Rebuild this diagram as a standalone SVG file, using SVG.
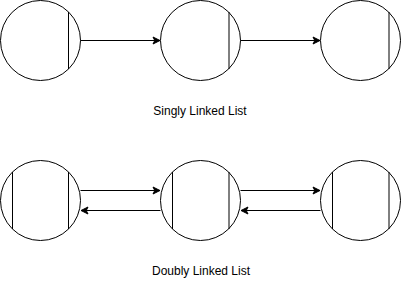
<svg xmlns="http://www.w3.org/2000/svg" width="401" height="281" viewBox="0 0 401 281">
<style>
.n circle{fill:#fff;stroke:#000;stroke-width:1}
.n line{stroke:#000;stroke-width:1}
.e{stroke:#000;stroke-width:1;fill:none;marker-end:url(#arr)}
.t{font-family:"Liberation Sans",Arial,sans-serif;font-size:12px;fill:#000;text-anchor:middle}
</style>
<defs>
<marker id="arr" markerUnits="userSpaceOnUse" markerWidth="10" markerHeight="10" viewBox="-8 -5 10 10" refX="0" refY="0" orient="auto">
<path d="M0,0 L-7,-3.5 L-5.25,0 L-7,3.5 Z" fill="#000" stroke="#000" stroke-width="1"/>
</marker>
</defs>
<g id="s1" class="n"><circle cx="40.5" cy="40.5" r="40"/><line x1="68.5" y1="12" x2="68.5" y2="69"/></g>
<g id="s2" class="n"><circle cx="200.5" cy="40.5" r="40"/><line x1="229" y1="12" x2="229" y2="69"/></g>
<g id="s3" class="n"><circle cx="360.5" cy="40.5" r="40"/><line x1="389" y1="12" x2="389" y2="69"/></g>
<g id="d1" class="n"><circle cx="40.5" cy="200.5" r="40"/><line x1="12.5" y1="172" x2="12.5" y2="229"/><line x1="68.5" y1="172" x2="68.5" y2="229"/></g>
<g id="d2" class="n"><circle cx="200.5" cy="200.5" r="40"/><line x1="172.5" y1="172" x2="172.5" y2="229"/><line x1="229" y1="172" x2="229" y2="229"/></g>
<g id="d3" class="n"><circle cx="360.5" cy="200.5" r="40"/><line x1="332.5" y1="172" x2="332.5" y2="229"/><line x1="389" y1="172" x2="389" y2="229"/></g>
<g id="connectors">
<line class="e" x1="80.5" y1="40.5" x2="160" y2="40.5"/>
<line class="e" x1="240.5" y1="40.5" x2="320" y2="40.5"/>
<line class="e" x1="80.5" y1="190.5" x2="160" y2="190.5"/>
<line class="e" x1="160.5" y1="210.5" x2="81" y2="210.5"/>
<line class="e" x1="240.5" y1="190.5" x2="320" y2="190.5"/>
<line class="e" x1="320.5" y1="210.5" x2="241" y2="210.5"/>
</g>
<text class="t" x="200" y="115">Singly Linked List</text>
<text class="t" x="201" y="275">Doubly Linked List</text>
</svg>
